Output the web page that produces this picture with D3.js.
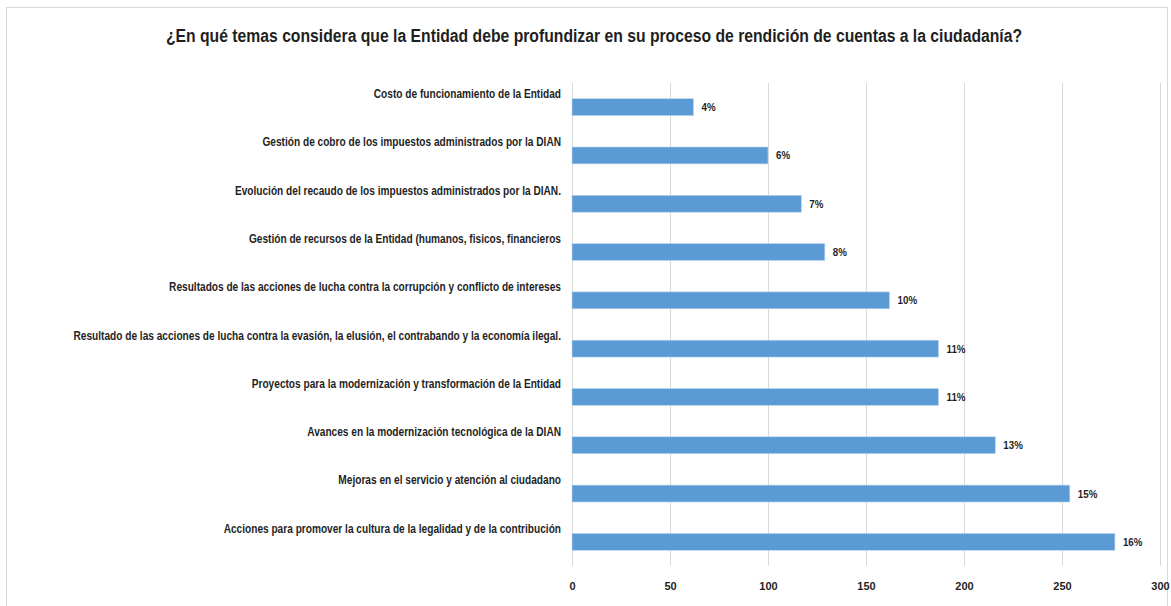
<!DOCTYPE html>
<html lang="es">
<head>
<meta charset="UTF-8">
<title>rendición de cuentas</title>
<style type="text/css">
	body { margin: 0; background: #fff; }
	svg text { font-family: "Liberation Sans", Arial, sans-serif; font-weight: bold; fill: #1f1f1f; }
	.grid line { stroke: #d9d9d9; stroke-width: 1px; }
	.bar { fill: #5b9bd5; stroke: #bdd7ee; stroke-width: 0.6px; }
</style>
</head>
<body>
<svg id="chart"></svg>

<script src="https://d3js.org/d3.v7.min.js" charset="utf-8"></script>
<script>
	"use strict";

	var categories = [
		"Costo de funcionamiento de la Entidad",
		"Gestión de cobro de los impuestos administrados por la DIAN",
		"Evolución del recaudo de los impuestos administrados por la DIAN.",
		"Gestión de recursos de la Entidad (humanos, fisicos, financieros",
		"Resultados de las acciones de lucha contra la corrupción y conflicto de intereses",
		"Resultado de las acciones de lucha contra la evasión, la elusión, el contrabando y la economía ilegal.",
		"Proyectos para la modernización y transformación de la Entidad",
		"Avances en la modernización tecnológica de la DIAN",
		"Mejoras en el servicio y atención al ciudadano",
		"Acciones para promover la cultura de la legalidad y de la contribución"
	];
	var values = [62, 100, 117, 129, 162, 187, 187, 216, 254, 277];
	var percentLabels = ["4%", "6%", "7%", "8%", "10%", "11%", "11%", "13%", "15%", "16%"];
	var xTicks = [0, 50, 100, 150, 200, 250, 300];
	var title = "¿En qué temas considera que la Entidad debe profundizar en su proceso de rendición de cuentas a la ciudadanía?";

	var W = 1171, H = 606;
	var svg = d3.select("#chart").attr("width", W).attr("height", H);

	// marco del gráfico
	svg.append("rect")
	  .attr("x", 6.5).attr("y", 7.5)
	  .attr("width", 1161).attr("height", 610)
	  .attr("fill", "#fff")
	  .attr("stroke", "#d9d9d9");

	// título, comprimido como la fuente estrecha del original
	var gTitle = svg.append("g");
	var tTitle = gTitle.append("text")
	  .attr("text-anchor", "middle")
	  .attr("dominant-baseline", "middle")
	  .style("font-size", "17.5px")
	  .text(title);
	var kTitle = 857 / tTitle.node().getComputedTextLength();
	gTitle.attr("transform", "translate(594,37) scale(" + kTitle + ",1)");

	var x = d3.scaleLinear().domain([0, 300]).range([572, 1160]);
	var y = d3.scaleBand().domain(categories).range([83, 566])
	  .paddingInner(0.65).paddingOuter(0.325);

	// líneas de cuadrícula
	svg.append("g").attr("class", "grid")
	  .selectAll("line")
	  .data(xTicks)
	  .enter()
	  .append("line")
	  .attr("x1", function(d){ return Math.round(x(d)) + 0.5; })
	  .attr("x2", function(d){ return Math.round(x(d)) + 0.5; })
	  .attr("y1", 83)
	  .attr("y2", 566);

	svg.append("g")
	  .selectAll("rect")
	  .data(values)
	  .enter()
	  .append("rect")
	  .attr("class", "bar")
	  .attr("x", x(0))
	  .attr("y", function(d, i){ return y(categories[i]); })
	  .attr("width", function(d){ return x(d) - x(0); })
	  .attr("height", y.bandwidth());

	// etiquetas de categoría encima de cada barra
	var gLabels = svg.append("g");
	var labels = gLabels.selectAll("text")
	  .data(categories)
	  .enter()
	  .append("text")
	  .attr("x", 0)
	  .attr("y", function(d){ return y(d) + y.bandwidth() / 2 - 12.5; })
	  .attr("text-anchor", "end")
	  .attr("dominant-baseline", "middle")
	  .style("font-size", "13px")
	  .text(function(d){ return d; });
	var maxW = d3.max(labels.nodes(), function(n){ return n.getComputedTextLength(); });
	gLabels.attr("transform", "translate(561,0) scale(" + (488 / maxW) + ",1)");

	// etiquetas de porcentaje
	svg.append("g")
	  .selectAll("text")
	  .data(values)
	  .enter()
	  .append("text")
	  .attr("transform", function(d, i){
	  	return "translate(" + (x(d) + 8) + "," + (y(categories[i]) + y.bandwidth() / 2 + 1) + ") scale(0.85,1)";
	  })
	  .attr("dominant-baseline", "middle")
	  .style("font-size", "11.5px")
	  .text(function(d, i){ return percentLabels[i]; });

	var axis = d3.axisBottom(x).tickValues(xTicks).tickSize(0).tickPadding(16);
	var gAxis = svg.append("g")
	  .attr("transform", "translate(0,566)")
	  .call(axis);
	gAxis.select(".domain").remove();
	gAxis.selectAll("text")
	  .style("font-size", "11px")
	  .style("font-family", null)
	  .attr("fill", null);
</script>
</body>
</html>
